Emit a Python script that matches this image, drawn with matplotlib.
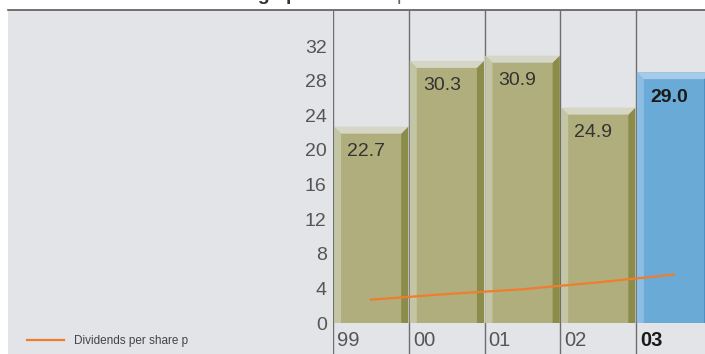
import matplotlib
matplotlib.use("Agg")
import matplotlib.pyplot as plt
from matplotlib.patches import Polygon
from matplotlib.lines import Line2D
import numpy as np

plt.rcParams['font.family'] = ['Liberation Sans', 'DejaVu Sans']

years = ['99', '00', '01', '02', '03']
eps = [22.7, 30.3, 30.9, 24.9, 29.0]
dividends = [2.7, 3.35, 3.9, 4.7, 5.6]
yticks = [0, 4, 8, 12, 16, 20, 24, 28, 32]

W, H = 705, 354
COL = 75.7          # px per column
PPU = 8.65          # px per unit on y
ZERO = 323          # px row of y=0
LEFT = 333.3        # px of first divider

olive = dict(front='#b0ae7c', top='#d5d6c5', left='#c4c5a5', right='#8b8b4a')
blue = dict(front='#6aaad6', top='#a6cbe8', left='#8cbde2', right='#4f8fc0')
styles = [olive, olive, olive, olive, blue]

fig = plt.figure(figsize=(W / 100, H / 100), dpi=100)

# grey panel with the dark rule along its top
bg = fig.add_axes([8 / W, 0, (W - 8) / W, (H - 10) / H])
bg.set_facecolor('#e3e4e8')
bg.set_xticks([])
bg.set_yticks([])
for side in ('left', 'right', 'bottom'):
    bg.spines[side].set_visible(False)
bg.spines['top'].set_color('#5a5a5a')
bg.spines['top'].set_linewidth(1.2)

ax = fig.add_axes([LEFT / W, 0, (W - LEFT) / W, (H - 10) / H])
ax.patch.set_alpha(0)
for s in ax.spines.values():
    s.set_visible(False)
ax.set_xlim(-0.5, -0.5 + (W - LEFT) / COL)
ax.set_ylim((ZERO - H) / PPU, (ZERO - 10) / PPU)

x = np.arange(len(years))
for i in range(len(years)):
    ax.axvline(i - 0.5, color='#6e6e6e', lw=1, zorder=1)

bw = 1 - 1.5 / COL
dx = 7 / COL
dy = 7 / PPU
ax.bar(x, eps, width=bw, color=[s['front'] for s in styles], zorder=2)
for xi, v, st in zip(x, eps, styles):
    x0, x1 = xi - bw / 2, xi + bw / 2
    ax.add_patch(Polygon([(x0, 0), (x0, v), (x0 + dx, v - dy), (x0 + dx, 0)],
                         closed=True, color=st['left'], lw=0, zorder=3))
    ax.add_patch(Polygon([(x1, 0), (x1, v), (x1 - dx, v - dy), (x1 - dx, 0)],
                         closed=True, color=st['right'], lw=0, zorder=3))
    ax.add_patch(Polygon([(x0, v), (x1, v), (x1 - dx, v - dy), (x0 + dx, v - dy)],
                         closed=True, color=st['top'], lw=0, zorder=3))

# value labels in the top-left corner of each bar
for i, v in enumerate(eps):
    last = i == len(eps) - 1
    ax.text(i - 0.5 + 14 / COL, v - 3.4, f'{v:.1f}', fontsize=14, va='baseline',
            color='#1a1a1a' if last else '#333333',
            fontweight='bold' if last else 'normal', zorder=6)

# year labels under the columns
for i, yr in enumerate(years):
    last = i == len(years) - 1
    ax.text(i - 0.5 + 4 / COL, (ZERO - 346.5) / PPU, yr, fontsize=14.5,
            va='baseline', color='#1a1a1a' if last else '#555555',
            fontweight='bold' if last else 'normal', zorder=6)

line, = ax.plot(x, dividends, color='#ef7d2d', lw=1.6, zorder=5,
                label='Dividends per share p')

ax.set_xticks([])
ax.set_yticks(yticks)
ax.tick_params(axis='y', length=0, pad=4.75, labelsize=14, labelcolor='#555555')

fig.legend(handles=[line], loc='center left',
           bbox_to_anchor=(27 / W, 1 - 341 / H), frameon=False,
           fontsize=8.5, handlelength=3.13, handletextpad=0.85,
           borderpad=0, borderaxespad=0, labelcolor='#444444')

# heading sits mostly above the top edge
fig.text(196.6 / W, 1.0, 'Earnings per share', fontsize=14, fontweight='bold',
         va='baseline', color='#333333')
fig.text(397 / W, 1.0, 'p', fontsize=14, va='baseline', color='#666666')

fig.savefig('out.png', dpi=100)
